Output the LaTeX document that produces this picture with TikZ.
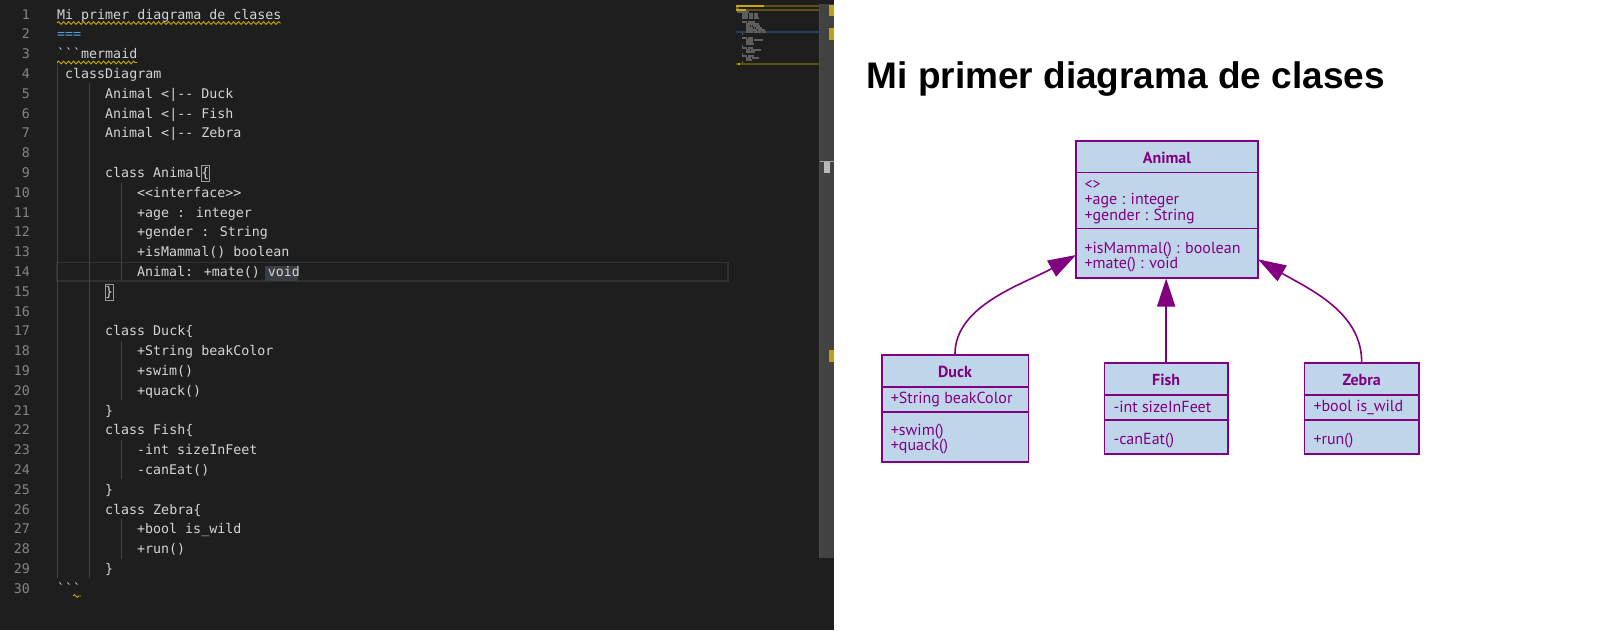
\documentclass[tikz,border=0pt]{standalone}
\usepackage{fontspec}
\newfontfamily\codefont{DejaVu Sans Mono}[Ligatures=TeXOff]
\newfontfamily\titlefont{Liberation Sans}
\newfontfamily\umlfont{PT Sans}
\usetikzlibrary{arrows.meta,decorations.pathmorphing}
\definecolor{edbg}{HTML}{1E1E1E}
\definecolor{codetxt}{HTML}{D4D4D4}
\definecolor{lnumc}{HTML}{858585}
\definecolor{guidec}{HTML}{404040}
\definecolor{mdblue}{HTML}{569CD6}
\definecolor{warnc}{HTML}{CCA700}
\definecolor{warndim}{HTML}{5E5014}
\definecolor{selc}{HTML}{3A3D41}
\definecolor{curline}{HTML}{303030}
\definecolor{mmtext}{HTML}{5E5E5E}
\definecolor{mmblue}{HTML}{22405E}
\definecolor{trackc}{HTML}{424242}
\definecolor{umlfill}{HTML}{BFD5EA}
\definecolor{umlline}{HTML}{800080}
\tikzset{
  codeline/.style={anchor=base west, inner sep=0pt, font=\codefont\fontsize{13.3}{16}\selectfont, text=codetxt},
  lnumstyle/.style={anchor=base east, inner sep=0pt, font=\codefont\fontsize{13.3}{16}\selectfont, text=lnumc},
  guide/.style={draw=guidec, line width=1pt},
  squiggle/.style={draw=warnc, line width=0.9pt, decorate, decoration={snake, amplitude=1.4pt, segment length=5pt}},
  bracketbox/.style={draw=gray!80, line width=0.8pt},
  umlbox/.style={draw=umlline, fill=umlfill, line width=1.6pt, rectangle, inner sep=0pt},
  umlrule/.style={draw=umlline, line width=1.6pt},
  umltext/.style={anchor=base west, inner sep=0pt, font=\umlfont\fontsize{16}{19}\selectfont, text=umlline},
  umltitle/.style={anchor=base, inner sep=0pt, font=\umlfont\bfseries\fontsize{16}{19}\selectfont, text=umlline},
  conn/.style={draw=umlline, line width=1.6pt, -{Triangle[length=28pt,width=18pt]}},
}
\newcommand\codeln[3]{\node[codeline] (c#1) at ({57+8*#2},{19+19.8*(#1-1)}) {#3};}
\newcommand\lnum[1]{\node[lnumstyle] (n#1) at (30,{19+19.8*(#1-1)}) {#1};}
\begin{document}
\begin{tikzpicture}[x=1pt,y=-1pt]
\useasboundingbox (0,0) rectangle (1607,630);
% editor background
\fill[edbg] (0,0) rectangle (834,630);
% current line highlight (line 14)
\draw[curline, line width=1.5pt] (57,262.5) rectangle (728,281);
% selection of void
\fill[selc] (265,265.5) rectangle (297.5,281);
% indent guides
\draw[guide] (57.5,61.5) -- (57.5,578.3);
\draw[guide] (89.5,83.3) -- (89.5,578.3);
\draw[guide] (121.5,182.3) -- (121.5,281.3);
\draw[guide] (121.5,340.7) -- (121.5,400.1);
\draw[guide] (121.5,439.7) -- (121.5,479.3);
\draw[guide] (121.5,518.9) -- (121.5,558.5);
% bracket match boxes
\draw[bracketbox] (201,165.4) rectangle (209,181.4);
\draw[bracketbox] (105,284.2) rectangle (113,300.2);
% line numbers
\foreach \n in {1,...,30} {\lnum{\n}}
% code
\codeln{1}{0}{Mi primer diagrama de clases}
\codeln{2}{0}{\textcolor{mdblue}{===}}
\codeln{3}{0}{```mermaid}
\codeln{4}{1}{classDiagram}
\codeln{5}{6}{Animal <|-- Duck}
\codeln{6}{6}{Animal <|-- Fish}
\codeln{7}{6}{Animal <|-- Zebra}
\codeln{9}{6}{class Animal\{}
\codeln{10}{10}{<<interface>>}
\codeln{11}{10}{+age : integer}
\codeln{12}{10}{+gender : String}
\codeln{13}{10}{+isMammal() boolean}
\codeln{14}{10}{Animal: +mate() void}
\codeln{15}{6}{\}}
\codeln{17}{6}{class Duck\{}
\codeln{18}{10}{+String beakColor}
\codeln{19}{10}{+swim()}
\codeln{20}{10}{+quack()}
\codeln{21}{6}{\}}
\codeln{22}{6}{class Fish\{}
\codeln{23}{10}{-int sizeInFeet}
\codeln{24}{10}{-canEat()}
\codeln{25}{6}{\}}
\codeln{26}{6}{class Zebra\{}
\codeln{27}{10}{+bool is\_wild}
\codeln{28}{10}{+run()}
\codeln{29}{6}{\}}
\codeln{30}{0}{```}
% warning squiggles
\draw[squiggle] (57,23) -- (281,23);
\draw[squiggle] (57,62.5) -- (137,62.5);
\draw[squiggle] (73,596) -- (81,596);
% minimap
\fill[warndim] (736,5) rectangle (819,7);
\fill[warnc] (736,5) rectangle (764,7);
\fill[warndim] (736,9) rectangle (819,11);
\fill[warnc] (736,9) rectangle (746,11);
\fill[mmblue] (736,31) rectangle (819,33);
\fill[warndim] (736,63) rectangle (819,65);
\fill[warnc] (738,63) rectangle (740,65);
\foreach \l/\c/\w in {2/0/3,4/1/12,5/6/6,5/13/4,5/18/4,6/6/6,6/13/4,6/18/4,7/6/6,7/13/4,7/18/5,
  9/6/5,9/12/7,10/10/13,11/10/4,11/15/1,11/17/7,12/10/7,12/18/1,12/20/6,13/10/11,13/22/7,
  14/10/7,14/18/7,14/26/4,15/6/1,17/6/5,17/12/5,18/10/7,18/18/9,19/10/7,20/10/8,21/6/1,
  22/6/5,22/12/5,23/10/4,23/15/10,24/10/9,25/6/1,26/6/5,26/12/6,27/10/5,27/16/7,28/10/6,29/6/1}
  {\fill[mmtext] ({736+\c},{5.3+2*(\l-1)}) rectangle ++(\w,1.4);}
% scrollbar
\fill[trackc] (819,4) rectangle (834,558);
\draw[gray!60!black, line width=0.8pt] (819.4,4) -- (819.4,558);
\fill[gray!70] (820,160.5) rectangle (834,162);
\fill[gray!55] (824,162) rectangle (830,173);
\fill[warnc!80!gray] (829,5) rectangle (834,16);
\fill[warnc!80!gray] (829,28) rectangle (834,40);
\fill[warnc!80!gray] (829,350) rectangle (834,362);
% right panel
\fill[white] (834,0) rectangle (1607,630);
\node[anchor=base west, inner sep=0pt, font=\titlefont\bfseries\fontsize{37}{40}\selectfont, text=black] (title) at (866.5,88.5) {Mi primer diagrama de clases};
% class boxes
\node[umlbox, minimum width=182pt, minimum height=136.7pt] (animal) at (1167,209.35) {};
\node[umlbox, minimum width=146.6pt, minimum height=107.3pt] (duck) at (955,408.35) {};
\node[umlbox, minimum width=123.7pt, minimum height=91.3pt] (fish) at (1166.15,408.35) {};
\node[umlbox, minimum width=114.7pt, minimum height=91.3pt] (zebra) at (1361.65,408.35) {};
\draw[umlrule] ([yshift=-32.3pt]animal.north west) -- ([yshift=-32.3pt]animal.north east);
\draw[umlrule] ([yshift=-88.3pt]animal.north west) -- ([yshift=-88.3pt]animal.north east);
\draw[umlrule] ([yshift=-33pt]duck.north west) -- ([yshift=-33pt]duck.north east);
\draw[umlrule] ([yshift=-58.3pt]duck.north west) -- ([yshift=-58.3pt]duck.north east);
\draw[umlrule] ([yshift=-33pt]fish.north west) -- ([yshift=-33pt]fish.north east);
\draw[umlrule] ([yshift=-58.3pt]fish.north west) -- ([yshift=-58.3pt]fish.north east);
\draw[umlrule] ([yshift=-33pt]zebra.north west) -- ([yshift=-33pt]zebra.north east);
\draw[umlrule] ([yshift=-58.3pt]zebra.north west) -- ([yshift=-58.3pt]zebra.north east);
% texts
\node[umltitle] (tAnimal) at (1167,163.3) {Animal};
\node[umltext] (aI) at (1084.3,189) {<>};
\node[umltext] (aAge) at (1084.3,204.6) {+age : integer};
\node[umltext] (aGen) at (1084.3,220.2) {+gender : String};
\node[umltext] (aMam) at (1084.3,253.3) {+isMammal() : boolean};
\node[umltext] (aMate) at (1084.3,268.5) {+mate() : void};
\node[umltitle] (tDuck) at (955,377.3) {Duck};
\node[umltext] (dBeak) at (890.7,403.3) {+String beakColor};
\node[umltext] (dSwim) at (890.7,435.5) {+swim()};
\node[umltext] (dQuack) at (890.7,450.7) {+quack()};
\node[umltitle] (tFish) at (1166.15,385.7) {Fish};
\node[umltext] (fSize) at (1113.3,412.2) {-int sizeInFeet};
\node[umltext] (fEat) at (1113.3,444) {-canEat()};
\node[umltitle] (tZebra) at (1361.65,385.7) {Zebra};
\node[umltext] (zWild) at (1313.3,411.7) {+bool is\_wild};
\node[umltext] (zRun) at (1313.3,444) {+run()};
% connectors
\coordinate (duckTip) at (1076,255);
\coordinate (zebraTip) at (1258,259.3);
\draw[conn] (duck.north) .. controls (955,305) and (1024,284) .. (duckTip);
\draw[conn] (fish.north) -- (fish.north |- animal.south);
\draw[conn] (zebra.north) .. controls (1361.65,312) and (1309.5,289.3) .. (zebraTip);
\end{tikzpicture}
\end{document}
